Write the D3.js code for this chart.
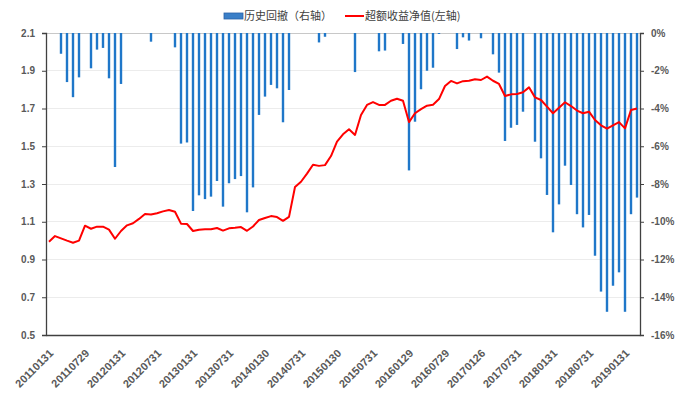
<!DOCTYPE html>
<html><head><meta charset="utf-8">
<script src="https://cdn.jsdelivr.net/npm/d3@7"></script>
<style>
html,body{margin:0;padding:0;background:#fff;}
svg{display:block;}
</style></head>
<body>
<svg id="chart" width="678" height="408"></svg>
<script>
const categories = [
"20110131","20110228","20110331","20110429","20110531","20110630","20110729","20110831","20110930","20111031","20111130","20111230",
"20120131","20120229","20120330","20120427","20120531","20120629","20120731","20120831","20120928","20121031","20121130","20121231",
"20130131","20130228","20130329","20130426","20130531","20130628","20130731","20130830","20130930","20131031","20131129","20131231",
"20140130","20140228","20140331","20140430","20140530","20140630","20140731","20140829","20140930","20141031","20141128","20141231",
"20150130","20150227","20150331","20150430","20150529","20150630","20150731","20150831","20150930","20151030","20151130","20151231",
"20160129","20160229","20160331","20160429","20160531","20160630","20160729","20160831","20160930","20161031","20161130","20161230",
"20170126","20170228","20170331","20170428","20170531","20170630","20170731","20170831","20170929","20171031","20171130","20171229",
"20180131","20180228","20180330","20180427","20180531","20180629","20180731","20180831","20180928","20181031","20181130","20181228",
"20190131","20190228","20190329"];

const tickLabels = ["20110131","20110729","20120131","20120731","20130131","20130731","20140130","20140731","20150130","20150731","20160129","20160729","20170126","20170731","20180131","20180731","20190131"];

// 历史回撤 (%), right axis
const drawdown = [
0,0,-1.1,-2.6,-3.4,-2.35,0,-1.87,-0.88,-0.79,-2.4,-7.1,
-2.7,0,0,0,0,-0.46,0,0,0,-0.76,-5.86,-5.8,
-9.43,-8.6,-8.8,-8.67,-7.84,-9.2,-7.96,-7.74,-7.58,-9.5,-8.18,-4.34,
-3.37,-2.75,-2.93,-4.73,-3.02,0,0,0,0,-0.5,-0.2,0,
0,0,0,-2.07,0,0,0,-0.97,-0.93,0,0,-0.58,
-7.28,-4.7,-2.98,-2.0,-1.84,-0.05,0,0,-0.85,-0.23,-0.4,0,
-0.28,0,-1.13,-2.1,-5.72,-5.02,-4.87,-4.17,0,-5.76,-6.64,-8.58,
-10.56,-9.08,-7.03,-8.05,-9.6,-10.3,-9.64,-11.8,-13.7,-14.77,-13.39,-12.68,
-14.77,-9.6,-8.72];

// 超额收益净值, left axis
const excessNav = [
0.994,1.024,1.012,1.0,0.989,1.0,1.079,1.063,1.074,1.074,1.058,1.01,
1.051,1.081,1.092,1.115,1.141,1.138,1.145,1.155,1.162,1.153,1.09,1.088,
1.051,1.058,1.06,1.06,1.067,1.053,1.065,1.068,1.072,1.052,1.075,1.109,
1.12,1.13,1.125,1.105,1.126,1.284,1.312,1.355,1.402,1.396,1.40,1.448,
1.524,1.563,1.59,1.56,1.666,1.719,1.734,1.719,1.719,1.741,1.752,1.741,
1.628,1.675,1.697,1.715,1.72,1.75,1.819,1.846,1.833,1.845,1.847,1.855,
1.851,1.869,1.847,1.83,1.766,1.775,1.777,1.786,1.812,1.759,1.745,1.71,
1.675,1.704,1.733,1.713,1.689,1.675,1.683,1.639,1.611,1.593,1.611,1.628,
1.595,1.692,1.70];

const leftTicks = [0.5,0.7,0.9,1.1,1.3,1.5,1.7,1.9,2.1];
const rightTicks = [0,-2,-4,-6,-8,-10,-12,-14,-16];
const seriesNames = ["历史回撤（右轴）","超额收益净值(左轴)"];

const svg = d3.select("#chart");
const L = 46, R = 640, T = 33, B = 335;

const x = d3.scaleBand().domain(categories).range([L, R]).padding(0);
const yL = d3.scaleLinear().domain([0.5, 2.1]).range([B, T]);
const yR = d3.scaleLinear().domain([-16, 0]).range([B, T]);

const labelFont = "'Liberation Sans', Arial, sans-serif";
const gray = "#595959";

// gridlines
svg.append("g").selectAll("line").data(leftTicks).join("line")
  .attr("x1", L).attr("x2", R)
  .attr("y1", d => yL(d)).attr("y2", d => yL(d))
  .attr("stroke", d => d === 2.1 ? "#c8c8c8" : "#ececec").attr("stroke-width", 1)
  .attr("shape-rendering", "crispEdges");

// bars
svg.append("g").selectAll("rect").data(drawdown.map((v, i) => ({c: categories[i], v})))
  .join("rect")
  .attr("x", d => x(d.c) + x.bandwidth() / 2 - 1.2)
  .attr("width", 2.4)
  .attr("y", yR(0))
  .attr("height", d => yR(d.v) - yR(0))
  .attr("fill", "#1f77c9");

// line
const line = d3.line()
  .x((d, i) => x(categories[i]) + x.bandwidth() / 2)
  .y(d => yL(d));
svg.append("path").datum(excessNav)
  .attr("d", line)
  .attr("fill", "none").attr("stroke", "#ff0000").attr("stroke-width", 2)
  .attr("stroke-linejoin", "round");

// left axis
const gL = svg.append("g").attr("transform", `translate(${L},0)`)
  .call(d3.axisLeft(yL).tickValues(leftTicks).tickFormat(d3.format(".1f")).tickSize(4).tickPadding(7));
gL.select(".domain").attr("stroke", "#404040").attr("stroke-width", 1.3);
gL.selectAll(".tick line").attr("stroke", "#404040");
gL.selectAll("text").attr("fill", gray).attr("font-size", 10).attr("font-weight", "bold").attr("font-family", labelFont);

// right axis
const gR = svg.append("g").attr("transform", `translate(${R},0)`)
  .call(d3.axisRight(yR).tickValues(rightTicks).tickFormat(d => d + "%").tickSize(4).tickPadding(7));
gR.select(".domain").attr("stroke", "#404040").attr("stroke-width", 1.3);
gR.selectAll(".tick line").attr("stroke", "#404040");
gR.selectAll("text").attr("fill", gray).attr("font-size", 10).attr("font-weight", "bold").attr("font-family", labelFont);

// bottom axis
const gB = svg.append("g").attr("transform", `translate(0,${B})`)
  .call(d3.axisBottom(x).tickValues(tickLabels).tickSize(0).tickFormat(d => d));
gB.select(".domain").attr("stroke", "#404040").attr("stroke-width", 1.3);
gB.selectAll("text")
  .attr("fill", gray).attr("font-size", 11).attr("font-weight", "bold").attr("font-family", labelFont)
  .attr("text-anchor", "end")
  .attr("dy", null).attr("y", null)
  .attr("transform", "translate(5,19) rotate(-45)");

// legend
const lg = svg.append("g").attr("font-family", "'Noto Sans CJK SC', sans-serif").attr("font-size", 11).attr("fill", "#404040");
lg.append("rect").attr("x", 224).attr("y", 13).attr("width", 19).attr("height", 6)
  .attr("fill", "#3a7fc8").attr("stroke", "#2a62a8").attr("stroke-width", 0.8);
lg.append("text").attr("x", 244).attr("y", 20).text(seriesNames[0]);
lg.append("line").attr("x1", 345).attr("x2", 364).attr("y1", 16).attr("y2", 16)
  .attr("stroke", "#ff0000").attr("stroke-width", 2);
lg.append("text").attr("x", 365).attr("y", 20).text(seriesNames[1]);
</script>
</body></html>
